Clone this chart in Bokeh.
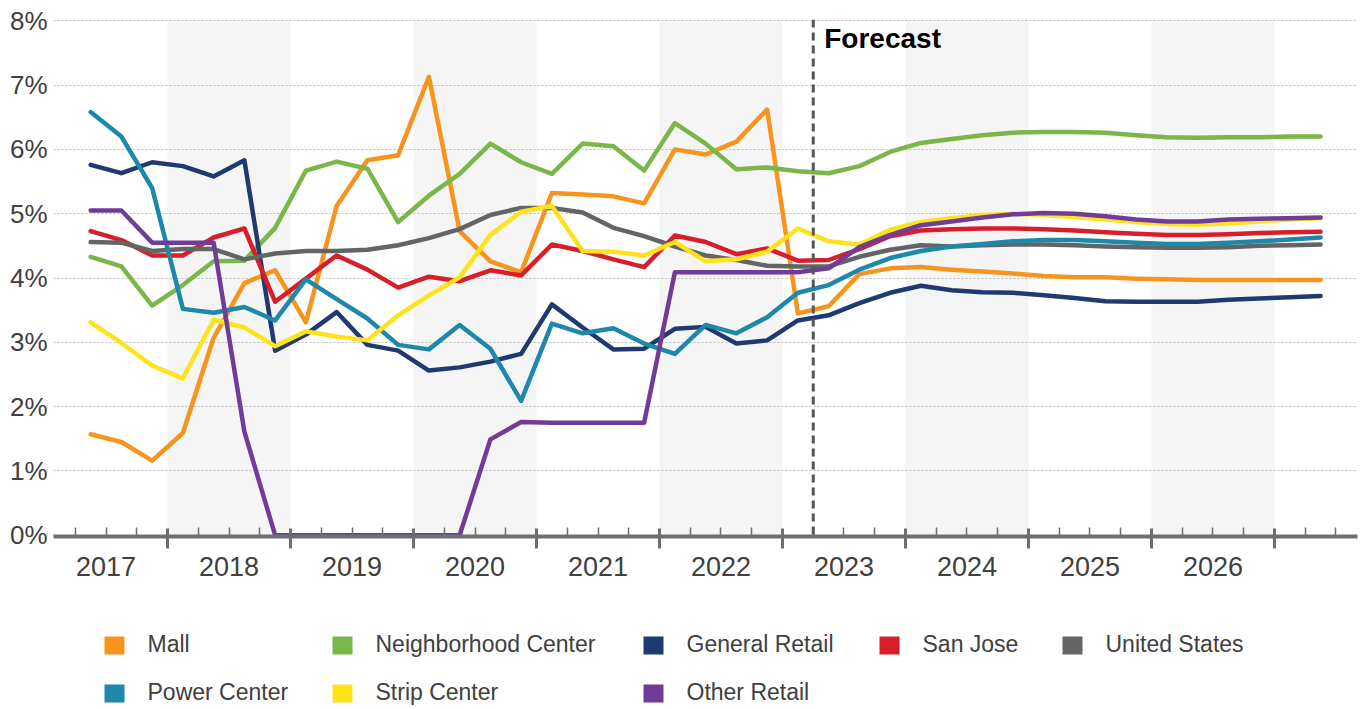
from bokeh.plotting import figure
from bokeh.models import (FixedTicker, LinearAxis, PrintfTickFormatter, CustomJSTickFormatter,
                          Range1d, Span)
from bokeh.layouts import column
from bokeh.embed import file_html
from bokeh.resources import INLINE
from bokeh.core.properties import value

# ---------------- data ----------------
# quarterly observations 2017 Q2 .. 2027 Q2 (forecast from 2023 Q2)
years_q = [2017] * 3 + [y for y in range(2018, 2027) for _ in range(4)] + [2027, 2027]
quarter_no = [2, 3, 4] + [1, 2, 3, 4] * 9 + [1, 2]

mall = [1.57, 1.45, 1.16, 1.59, 3.07, 3.92, 4.12, 3.31, 5.12, 5.83, 5.91, 7.13,
        4.73, 4.26, 4.09, 5.32, 5.30, 5.27, 5.16, 6.00, 5.92, 6.12, 6.62, 3.45,
        3.56, 4.06, 4.15, 4.17, 4.13, 4.10, 4.07, 4.03, 4.01, 4.01, 3.99, 3.98,
        3.97, 3.97, 3.97, 3.97, 3.97]
neighborhood = [4.33, 4.18, 3.57, 3.89, 4.26, 4.27, 4.78, 5.67, 5.81, 5.70, 4.87, 5.28,
                5.62, 6.09, 5.80, 5.62, 6.09, 6.05, 5.67, 6.41, 6.09, 5.69, 5.72, 5.66,
                5.63, 5.74, 5.96, 6.10, 6.16, 6.22, 6.26, 6.27, 6.27, 6.26, 6.22, 6.19,
                6.18, 6.19, 6.19, 6.20, 6.20]
general = [5.76, 5.63, 5.80, 5.74, 5.58, 5.83, 2.87, 3.12, 3.47, 2.96, 2.87, 2.56,
           2.61, 2.70, 2.82, 3.59, 3.23, 2.89, 2.90, 3.21, 3.24, 2.98, 3.03, 3.34,
           3.42, 3.61, 3.77, 3.88, 3.81, 3.78, 3.77, 3.73, 3.69, 3.64, 3.63, 3.63,
           3.63, 3.66, 3.68, 3.70, 3.72]
san_jose = [4.73, 4.59, 4.35, 4.35, 4.63, 4.77, 3.63, 3.99, 4.35, 4.13, 3.85, 4.02,
            3.95, 4.12, 4.04, 4.52, 4.42, 4.29, 4.17, 4.66, 4.56, 4.37, 4.46, 4.27,
            4.28, 4.45, 4.65, 4.74, 4.76, 4.77, 4.77, 4.76, 4.74, 4.71, 4.69, 4.67,
            4.67, 4.68, 4.70, 4.71, 4.72]
united_states = [4.56, 4.55, 4.42, 4.45, 4.45, 4.29, 4.38, 4.42, 4.42, 4.44, 4.51, 4.62,
                 4.76, 4.98, 5.09, 5.09, 5.02, 4.78, 4.65, 4.49, 4.35, 4.28, 4.19, 4.18,
                 4.18, 4.33, 4.44, 4.51, 4.49, 4.51, 4.52, 4.52, 4.51, 4.49, 4.48, 4.47,
                 4.47, 4.48, 4.50, 4.51, 4.52]
power_center = [6.58, 6.20, 5.40, 3.52, 3.46, 3.55, 3.34, 3.98, 3.67, 3.37, 2.96, 2.89,
                3.27, 2.90, 2.09, 3.29, 3.14, 3.22, 2.98, 2.82, 3.27, 3.14, 3.39, 3.77,
                3.89, 4.13, 4.31, 4.42, 4.49, 4.53, 4.57, 4.59, 4.59, 4.57, 4.55, 4.53,
                4.53, 4.55, 4.57, 4.60, 4.63]
strip_center = [3.31, 2.99, 2.64, 2.44, 3.35, 3.23, 2.94, 3.17, 3.09, 3.03, 3.42, 3.73,
                4.01, 4.67, 5.03, 5.12, 4.42, 4.41, 4.35, 4.56, 4.26, 4.29, 4.41, 4.77,
                4.57, 4.52, 4.75, 4.87, 4.93, 4.98, 5.00, 4.98, 4.95, 4.91, 4.87, 4.84,
                4.83, 4.85, 4.88, 4.91, 4.93]
other_retail = [5.05, 5.05, 4.55, 4.55, 4.55, 1.61, 0.0, 0.0, 0.0, 0.0, 0.0, 0.0,
                0.0, 1.49, 1.76, 1.75, 1.75, 1.75, 1.75, 4.09, 4.09, 4.09, 4.09, 4.09,
                4.15, 4.48, 4.67, 4.82, 4.88, 4.94, 4.99, 5.01, 5.00, 4.96, 4.91, 4.88,
                4.88, 4.91, 4.92, 4.93, 4.94]

series_names = ["Mall", "Neighborhood Center", "General Retail", "San Jose", "United States",
                "Power Center", "Strip Center", "Other Retail"]
series_values = [mall, neighborhood, general, san_jose, united_states,
                 power_center, strip_center, other_retail]
series_colors = ["#F7941D", "#7AB648", "#1F3A70", "#D71F2B", "#636466",
                 "#1E88AB", "#FFE21A", "#6F3D98"]

label_years = list(range(2017, 2027))          # year labels on the axis
shaded_years = [2018, 2020, 2022, 2024, 2026]   # light grey bands
forecast_start = 2023.25                       # start of 2023 Q2
y_ticks = [0, 1, 2, 3, 4, 5, 6, 7, 8]

# x position of each quarter = middle of the quarter
x = [y + (q - 0.5) / 4 for y, q in zip(years_q, quarter_no)]

FONT = "Liberation Sans"
TXT = "#404040"
AXIS = "#6D6E71"

# ---------------- main chart ----------------
p = figure(width=1366, height=600, output_backend="svg", toolbar_location=None,
           x_range=Range1d(2017.073, 2027.675), y_range=Range1d(-0.02, 8.02),
           min_border_left=53, min_border_right=9, min_border_top=19, min_border_bottom=64)
p.outline_line_color = None
p.background_fill_color = "white"
p.border_fill_color = "white"

# shaded year bands
p.quad(left=shaded_years, right=[y + 1 for y in shaded_years], bottom=0, top=8,
       fill_color="#F5F5F5", line_color=None, level="image")

# y axis
p.yaxis.ticker = FixedTicker(ticks=y_ticks)
p.yaxis.formatter = PrintfTickFormatter(format="%d%%")
p.yaxis.axis_line_color = None
p.yaxis.major_tick_line_color = None
p.yaxis.minor_tick_line_color = None
p.yaxis.major_tick_in = 0
p.yaxis.major_tick_out = 0
p.yaxis.minor_tick_in = 0
p.yaxis.minor_tick_out = 0
p.yaxis.major_label_standoff = 6
p.yaxis.major_label_text_font = FONT
p.yaxis.major_label_text_font_size = "26px"
p.yaxis.major_label_text_color = TXT

p.xgrid.grid_line_color = None
p.ygrid.grid_line_color = "#BDBDBD"
p.ygrid.grid_line_dash = "2 2"
p.ygrid.grid_line_width = 1

# x axis: year boundary ticks + quarter ticks
year_bounds = [y for y in range(2018, 2028)]
quarter_bounds = [y + f for y in range(2017, 2028) for f in (0.25, 0.5, 0.75) if y + f < 2027.6]
xa = p.xaxis[0]
xa.ticker = FixedTicker(ticks=year_bounds, minor_ticks=quarter_bounds)
xa.axis_line_color = AXIS
xa.axis_line_width = 4
xa.major_tick_line_color = AXIS
xa.major_tick_line_width = 3
xa.major_tick_in = 8
xa.major_tick_out = 12
xa.minor_tick_line_color = AXIS
xa.minor_tick_line_width = 1.5
xa.minor_tick_in = 9
xa.minor_tick_out = 0
xa.major_label_text_font_size = "1px"
xa.major_label_text_color = None
xa.major_label_standoff = 0

# x axis: year labels centred in each year
la = LinearAxis(ticker=FixedTicker(ticks=[y + 0.5 for y in label_years]),
                formatter=CustomJSTickFormatter(code="return String(Math.floor(tick));"),
                axis_line_color=None, major_tick_line_color=None, minor_tick_line_color=None,
                major_tick_in=0, major_tick_out=0, minor_tick_in=0, minor_tick_out=0,
                major_label_standoff=8, major_label_text_font=FONT,
                major_label_text_font_size="27px", major_label_text_color=TXT)
p.add_layout(la, "below")

# series lines
for name, vals, col in zip(series_names, series_values, series_colors):
    p.line(x, vals, line_color=col, line_width=4.5, line_join="round", line_cap="round")

# forecast marker
p.add_layout(Span(location=forecast_start, dimension="height", line_color="#555555",
                  line_width=3, line_dash="8 5"))
p.text(x=[forecast_start], y=[8.0], text=["Forecast"], x_offset=11, y_offset=2,
       text_font=value(FONT), text_font_style="bold", text_font_size="28px",
       text_color="black", text_baseline="top", text_align="left")

# ---------------- legend (drawn as a small panel, x in page pixels) ----------------
lg = figure(width=1366, height=109, output_backend="svg", toolbar_location=None,
            x_range=Range1d(53, 1357), y_range=Range1d(109, 0),
            x_axis_type=None, y_axis_type=None,
            min_border_left=53, min_border_right=9, min_border_top=0, min_border_bottom=0)
lg.outline_line_color = None
lg.xgrid.visible = False
lg.ygrid.visible = False

col_left = [104, 332, 643, 879, 1062]
row_mid = [45, 93]
order = [(0, 0), (1, 0), (2, 0), (3, 0), (4, 0), (0, 1), (1, 1), (2, 1)]
sq_x = [col_left[c] + 10 for c, r in order]
sq_y = [row_mid[r] for c, r in order]
tx_x = [col_left[c] + 43 for c, r in order]
tx_y = [row_mid[r] - 2 for c, r in order]
lg.rect(x=sq_x, y=sq_y, width=20, height=18, fill_color=series_colors, line_color=None)
lg.text(x=tx_x, y=tx_y, text=series_names, text_font=value(FONT), text_font_size="23px",
        text_color=TXT, text_baseline="middle", text_align="left")

layout = column(p, lg, spacing=0)
open("out.html", "w").write(file_html(layout, INLINE))
